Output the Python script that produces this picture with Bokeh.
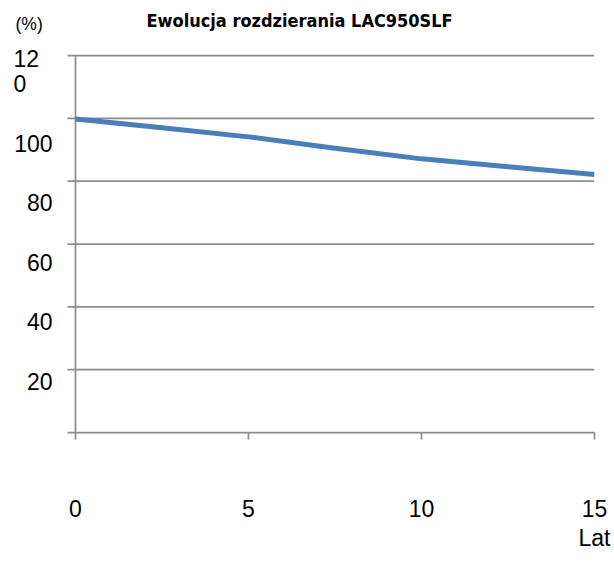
from bokeh.plotting import figure
from bokeh.models import Range1d, FixedTicker, Label
from bokeh.core.properties import value
from bokeh.embed import file_html
from bokeh.resources import INLINE

# ---- data ----
years = [0, 2.5, 5, 7.5, 10, 12.5, 15]
values = [99.8, 97.0, 94.1, 90.5, 87.1, 84.6, 82.1]
x_ticks = [0, 5, 10, 15]
x_last_label = "15\nLat"
y_ticks = [0, 20, 40, 60, 80, 100, 120]
y_label_values = [20, 40, 60, 80, 100]
y_label_texts = ["20", "40", "60", "80", "100"]
top_label_value = 120
top_label_parts = ["12", "0"]
title_text = "Ewolucja rozdzierania LAC950SLF"
y_unit = "(%)"

# ---- layout (pixels) ----
W, H = 614, 569
X0_PX, X15_PX = 75, 594          # pixel of x=0 and x=15
Y0_PX, Y120_PX = 432, 55         # pixel of y=0 and y=120
kx = (X15_PX - X0_PX) / 15.0
ky = (Y0_PX - Y120_PX) / 120.0
x_start = -X0_PX / kx
y_end = 120 + Y120_PX / ky
# tick-label positions are spread slightly tighter than the gridlines
LBL100_PX, LBL20_PX = 142.5, 381.0
kl = (LBL20_PX - LBL100_PX) / 80.0
lab_start = 20 - (Y0_PX - LBL20_PX) / kl
lab_end = 100 + LBL100_PX / kl

GRID = "#8c8c8c"
LINE = "#4a7ebb"
FONT = "Liberation Sans"
FS = "23px"

p = figure(width=W, height=H, output_backend="svg", toolbar_location=None,
           x_range=Range1d(x_start, 15), y_range=Range1d(0, y_end),
           y_axis_location=None,
           min_border_left=0, min_border_right=W - X15_PX, min_border_top=0,
           min_border_bottom=H - Y0_PX)
p.extra_y_ranges = {"labels": Range1d(lab_start, lab_end)}
p.outline_line_color = None
p.background_fill_color = "white"
p.border_fill_color = "white"
p.xgrid.grid_line_color = None
p.ygrid.grid_line_color = None

# x axis
p.xaxis.ticker = FixedTicker(ticks=x_ticks)
p.xaxis.bounds = (-8 / kx, 15)
p.xaxis.minor_tick_line_color = None
p.xaxis.major_tick_in = 0
p.xaxis.major_tick_out = 7
p.xaxis.major_tick_line_color = GRID
p.xaxis.major_tick_line_width = 1.75
p.xaxis.axis_line_color = GRID
p.xaxis.axis_line_width = 1.75
p.xaxis.major_label_text_font = FONT
p.xaxis.major_label_text_font_size = FS
p.xaxis.major_label_text_color = "#000000"
p.xaxis.major_label_text_line_height = 1.15
p.xaxis.major_label_standoff = 56
p.xaxis.major_label_overrides = {15: x_last_label}

# horizontal gridlines (with their small tick stubs left of the axis)
gy = y_ticks[1:]
p.segment(x0=[-8 / kx] * len(gy), y0=gy, x1=[15] * len(gy), y1=gy,
          line_color=GRID, line_width=1.75)
# vertical value axis line
p.segment(x0=[x_ticks[0]], y0=[y_ticks[0]], x1=[x_ticks[0]], y1=[y_ticks[-1]],
          line_color=GRID, line_width=1.75)

# data line
p.line(years, values, line_width=5, line_color=LINE)

# value-axis tick labels
p.text(x=[0] * len(y_label_values), y=y_label_values, text=y_label_texts,
       y_range_name="labels", x_offset=-23, text_align="right",
       text_baseline="middle", text_font=value(FONT), text_font_size=value(FS),
       text_color="#000000")
p.text(x=[0, 0], y=[top_label_value + 25 / kl, top_label_value], text=top_label_parts,
       y_range_name="labels", x_offset=-62, text_align="left",
       text_baseline="middle", text_font=value(FONT), text_font_size=value(FS),
       text_color="#000000")

# title and unit
p.add_layout(Label(x=(146 - X0_PX) / kx, y=120 + (Y120_PX - 20) / ky, text=title_text,
                   text_align="left", text_baseline="middle",
                   text_font="DejaVu Sans Condensed, DejaVu Sans", text_font_style="bold",
                   text_font_size="18px", text_color="#000000"))
p.add_layout(Label(x=(15 - X0_PX) / kx, y=120 + (Y120_PX - 23) / ky, text=y_unit,
                   text_align="left", text_baseline="middle",
                   text_font=FONT, text_font_size="17.5px", text_color="#000000"))

open("out.html", "w").write(file_html(p, INLINE))
